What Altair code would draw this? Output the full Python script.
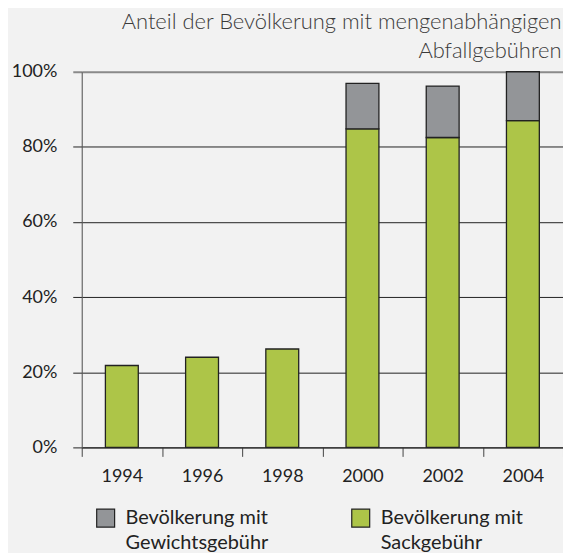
import altair as alt
import pandas as pd

years = ["1994", "1996", "1998", "2000", "2002", "2004"]
sack = [0.218, 0.240, 0.262, 0.848, 0.825, 0.870]
gewicht = [0.0, 0.0, 0.0, 0.121, 0.137, 0.130]
series = ["Bevölkerung mit Gewichtsgebühr", "Bevölkerung mit Sackgebühr"]
colors = ["#939598", "#adc548"]

rows = []
for y, s, g in zip(years, sack, gewicht):
    rows.append({"Jahr": y, "Serie": series[1], "Wert": s, "ord": 0})
    rows.append({"Jahr": y, "Serie": series[0], "Wert": g, "ord": 1})
df = pd.DataFrame(rows)

FONT = "Lato"

chart = (
    alt.Chart(df)
    .transform_filter("datum.Wert > 0")
    .mark_bar(width=33, stroke="#222222", strokeWidth=1.3)
    .encode(
        x=alt.X(
            "Jahr:N",
            title=None,
            sort=years,
            scale=alt.Scale(paddingInner=0, paddingOuter=0),
            axis=alt.Axis(
                labelAngle=0,
                tickBand="extent",
                tickSize=9,
                tickColor="#444444",
                domainColor="#222222",
                labelPadding=11,
                labelFontSize=18,
                labelColor="#222222",
                labelFont=FONT,
            ),
        ),
        y=alt.Y(
            "Wert:Q",
            title=None,
            stack="zero",
            scale=alt.Scale(domain=[0, 1], nice=False),
            axis=alt.Axis(
                values=[0, 0.2, 0.4, 0.6, 0.8, 1.0],
                format="%",
                grid=True,
                gridColor={"condition": {"test": "datum.value >= 1", "value": "#8a8a8a"}, "value": "#222222"},
                gridWidth={"condition": {"test": "datum.value >= 1", "value": 2}, "value": 1},
                tickColor={"condition": {"test": "datum.value >= 1", "value": "#8a8a8a"}, "value": "#222222"},
                tickWidth={"condition": {"test": "datum.value >= 1", "value": 2}, "value": 1},
                tickSize=9,
                domainColor="#555555",
                labelPadding=16,
                labelFontSize=18,
                labelColor="#222222",
                labelFont=FONT,
            ),
        ),
        color=alt.Color(
            "Serie:N",
            scale=alt.Scale(domain=series, range=colors),
            legend=alt.Legend(
                title=None,
                orient="none",
                legendX=14,
                legendY=438,
                direction="horizontal",
                columns=2,
                columnPadding=80,
                symbolType="square",
                symbolSize=324,
                symbolStrokeColor="#222222",
                symbolStrokeWidth=1.2,
                symbolOpacity=1,
                labelFont=FONT,
                labelFontSize=20,
                labelColor="#222222",
                labelOffset=10,
                labelLimit=300,
                labelBaseline="middle",
                labelExpr="[slice(datum.label, 0, 15), slice(datum.label, 16)]",
                padding=0,
            ),
        ),
        order=alt.Order("ord:Q"),
    )
    .properties(
        width=483,
        height=377,
        title=alt.TitleParams(
            text=["Anteil der Bevölkerung mit mengenabhängigen", "Abfallgebühren"],
            anchor="end",
            font=FONT,
            fontSize=22,
            fontWeight=300,
            color="#3a3a3a",
            lineHeight=29,
            offset=12,
            dy=12,
            dx=-2,
        ),
        background="#f2f2f2",
        padding={"left": 74, "top": 63, "right": 0, "bottom": 105},
        autosize=alt.AutoSizeParams(type="none"),
    )
    .configure_view(fill="#dcdddf", stroke="#8a8a8a", strokeWidth=1.5)
    .configure(style={"guide-label": {"lineHeight": 25}})
)

chart.save("out.html", embed_options={"renderer": "svg", "actions": False})
